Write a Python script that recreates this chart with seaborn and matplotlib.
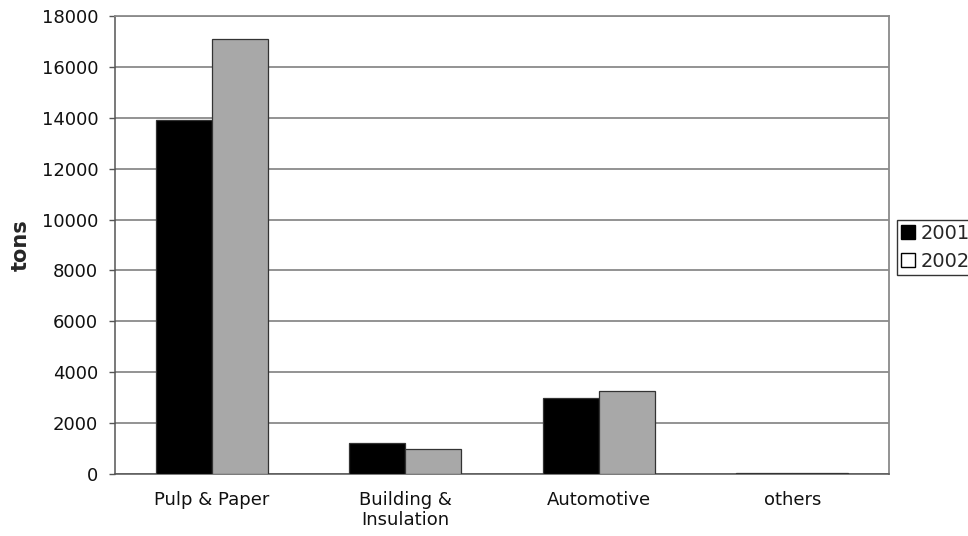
import matplotlib
matplotlib.use("Agg")
import matplotlib.pyplot as plt
from matplotlib.patches import Patch
import seaborn as sns
import pandas as pd

categories = ["Pulp & Paper", "Building &\nInsulation", "Automotive", "others"]
years = ["2001", "2002"]
tons_2001 = [13900, 1200, 3000, 40]
tons_2002 = [17100, 1000, 3250, 40]
y_ticks = [0, 2000, 4000, 6000, 8000, 10000, 12000, 14000, 16000, 18000]

df = pd.DataFrame({
    "category": categories * 2,
    "year": [years[0]] * len(categories) + [years[1]] * len(categories),
    "tons": tons_2001 + tons_2002,
})

sns.set_theme(style="white")
plt.rcParams["font.family"] = ["DejaVu Sans"]

fig = plt.figure(figsize=(9.68, 5.36), dpi=100)
ax = fig.add_axes([115 / 968, 1 - 474 / 536, (889 - 115) / 968, (474 - 16) / 536])

colors = {"2001": "#000000", "2002": "#a8a8a8"}
sns.barplot(data=df, x="category", y="tons", hue="year", order=categories,
            hue_order=years, palette=colors, width=0.58, edgecolor="#333333",
            linewidth=0.9, saturation=1, ax=ax, legend=False, zorder=3)

ax.set_ylim(0, 18000)
ax.set_xlim(-0.5, 3.5)
ax.set_yticks(y_ticks)
ax.set_yticklabels([str(v) for v in y_ticks], fontsize=13, color="#111111")
ax.yaxis.grid(True, color="#8a8a8a", linewidth=1.3, zorder=0)
ax.set_axisbelow(True)

ax.set_xticks(range(len(categories)))
ax.set_xticklabels(categories, fontsize=13, color="#111111", linespacing=1.15)
ax.set_xticks([i - 0.5 for i in range(len(categories) + 1)], minor=True)
ax.tick_params(axis="x", which="major", length=0, pad=12)
ax.tick_params(axis="x", which="minor", length=4, width=1, color="#555555", direction="out")
ax.tick_params(axis="y", which="major", length=4, width=1, color="#555555", direction="out", pad=8, left=True)

ax.set_xlabel("")
ax.set_ylabel("tons", fontsize=15, fontweight="bold", labelpad=8)

for side in ["left", "bottom"]:
    ax.spines[side].set_color("#555555")
    ax.spines[side].set_linewidth(1.1)
for side in ["top", "right"]:
    ax.spines[side].set_visible(True)
    ax.spines[side].set_color("#8a8a8a")
    ax.spines[side].set_linewidth(1.3)

handles = [Patch(facecolor="#000000", edgecolor="#000000", label="2001"),
           Patch(facecolor="#ffffff", edgecolor="#000000", label="2002")]
leg = fig.legend(handles=handles, loc="upper left",
                 bbox_to_anchor=(897 / 968, 1 - 220 / 536), fontsize=14,
                 frameon=True, fancybox=False, edgecolor="#000000",
                 handlelength=0.7, handleheight=0.7, handletextpad=0.3,
                 borderpad=0.2, labelspacing=0.45, borderaxespad=0)
leg.get_frame().set_linewidth(1.0)

fig.savefig("out.png", dpi=100)
